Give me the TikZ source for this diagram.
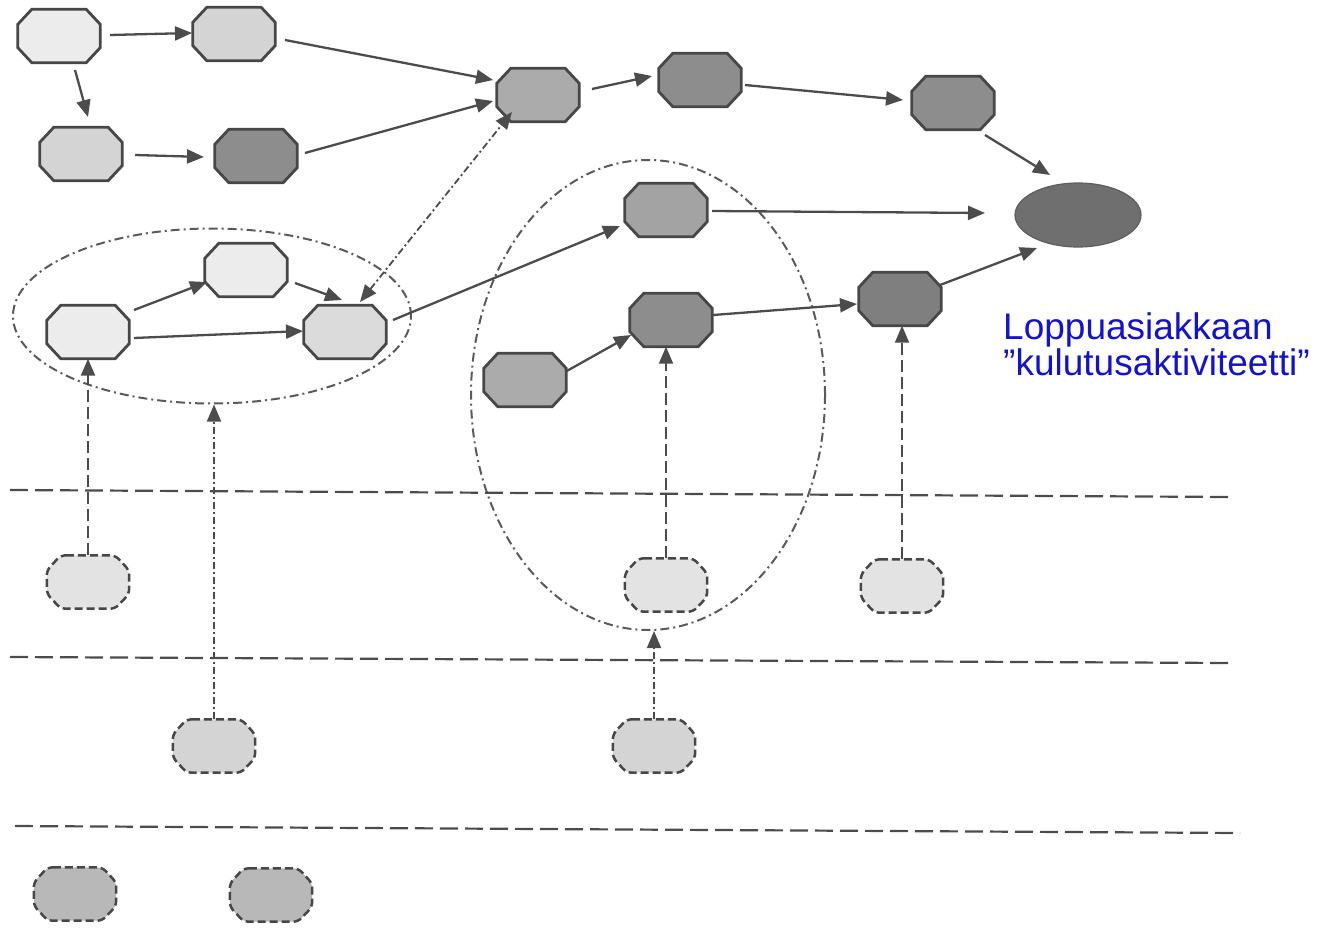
\documentclass[tikz,border=0pt]{standalone}
\usepackage{fontspec}
\setmainfont{Liberation Sans}
\usetikzlibrary{shapes.geometric,arrows.meta,calc}

\definecolor{edge}{HTML}{474747}
\definecolor{link}{HTML}{4C4C4C}
\definecolor{grpline}{HTML}{5A5A5A}
\definecolor{txtblue}{HTML}{1212D2}
\definecolor{g1}{HTML}{ECECEC}
\definecolor{g2}{HTML}{D4D4D4}
\definecolor{g3}{HTML}{ABABAB}
\definecolor{g4}{HTML}{8D8D8D}
\definecolor{g5}{HTML}{6F6F6F}

% octagonal box: #1 style of the outline, #2 name, #3 position, #4 fill
\newcommand\octbox[4]{%
  \node[box] (#2) at (#3) {};
  \path[#1, fill=#4]
    ($(#2.north west)+(14,0)$) -- ($(#2.north east)+(-14,0)$)
    -- ($(#2.north east)+(0,15)$) -- ($(#2.south east)+(0,-15)$)
    -- ($(#2.south east)+(-14,0)$) -- ($(#2.south west)+(14,0)$)
    -- ($(#2.south west)+(0,-15)$) -- ($(#2.north west)+(0,15)$) -- cycle;
}

\begin{document}
\begin{tikzpicture}[x=1pt,y=-1pt,
  box/.style={rectangle, minimum width=82pt, minimum height=53pt, inner sep=0pt},
  actline/.style={draw=edge, line width=2.8pt, line join=miter},
  resline/.style={draw=edge, line width=2.5pt, rounded corners=5pt,
    dash pattern=on 8pt off 4pt},
  grp/.style={ellipse, draw=grpline, line width=2pt,
    dash pattern=on 9pt off 4pt on 2pt off 4pt},
  flow/.style={draw=link, line width=2.3pt, -{Triangle[length=17pt,width=14pt]}},
  supply/.style={draw=link, line width=2pt, dash pattern=on 12pt off 5pt,
    -{Triangle[length=17pt,width=14pt]}},
  assist/.style={draw=link, line width=1.8pt, dash pattern=on 7pt off 3pt on 2pt off 3pt,
    -{Triangle[length=17pt,width=14pt]}},
  layer/.style={draw=link, line width=2.2pt, dash pattern=on 18pt off 7pt}
]
\useasboundingbox (0,0) rectangle (1321,944);

% grouping ellipses
\node[grp, minimum width=398pt, minimum height=175pt] (grp1) at (212,316) {};
\node[grp, minimum width=354pt, minimum height=470pt] (grp2) at (648,395) {};

% layer separators
\draw[layer] (10,490) -- (1230,497);
\draw[layer] (10,657) -- (1230,663);
\draw[layer] (15,826) -- (1240,833);

% activities
\octbox{actline}{A}{59,36}{g1}
\octbox{actline}{B}{234,34}{g2}
\octbox{actline}{C}{81,154}{g2}
\octbox{actline}{D}{256,156}{g4}
\octbox{actline}{E}{538,95}{g3}
\octbox{actline}{F}{700,80}{g4}
\octbox{actline}{G}{953,103}{g4}
\node[ellipse, fill=g5, draw=g5!85!black, line width=1.2pt, minimum width=126pt,
  minimum height=64pt] (H) at (1078,215) {};
\octbox{actline}{I}{246,270}{g1}
\octbox{actline}{J}{88,332}{g1}
\octbox{actline}{K}{345,332}{g1!93!black}
\octbox{actline}{L}{666,210}{g3!110}
\octbox{actline}{M}{671,320}{g4}
\octbox{actline}{N}{525,380}{g3}
\octbox{actline}{O}{900,299}{g4!90!black}

% resources in lower layers
\octbox{resline}{P1}{88,582}{g1!96!black}
\octbox{resline}{P2}{666,585}{g1!96!black}
\octbox{resline}{P3}{902,586}{g1!96!black}
\octbox{resline}{Q1}{214,746}{g2}
\octbox{resline}{Q2}{654,746}{g2}
\octbox{resline}{R1}{75,894}{g3!85!white}
\octbox{resline}{R2}{271,895}{g3!85!white}

% flows between activities
\draw[flow] ($(A)+(51,-1)$) -- ($(B)+(-42,-1)$);
\draw[flow] ($(A)+(16,34)$) -- ($(C)+(7,-37)$);
\draw[flow] ($(B)+(51,6)$) -- ($(E)+(-45,-15)$);
\draw[flow] ($(C)+(54,1)$) -- ($(D)+(-52,1)$);
\draw[flow] ($(D)+(49,-3)$) -- ($(E)+(-45,6)$);
\draw[flow] ($(E)+(54,-6)$) -- ($(F)+(-48,-4)$);
\draw[flow] ($(F)+(45,5)$) -- ($(G)+(-50,-3)$);
\draw[flow] ($(G)+(32,32)$) -- ($(H)+(-28,-40)$);
\draw[flow] ($(L)+(46,1)$) -- ($(H)+(-93,-2)$);
\draw[flow] ($(O)+(40,-14)$) -- ($(H)+(-41,33)$);
\draw[flow] ($(J)+(46,-22)$) -- ($(I)+(-39,12)$);
\draw[flow] ($(I)+(49,13)$) -- ($(K)+(-3,-32)$);
\draw[flow] ($(J)+(46,6)$) -- ($(K)+(-42,-1)$);
\draw[flow] ($(K)+(48,-12)$) -- ($(L)+(-46,16)$);
\draw[flow] ($(N)+(40,-8)$) -- ($(M)+(-40,15)$);
\draw[flow] ($(M)+(42,-5)$) -- ($(O)+(-43,5)$);
\draw[assist, {Triangle[length=17pt,width=14pt]}-{Triangle[length=17pt,width=14pt]}]
  ($(K)+(15,-30)$) -- ($(E)+(-26,17)$);

% support from lower layers
\draw[supply] (P1.north) -- (P1.north |- J.south);
\draw[supply] (P2.north) -- (P2.north |- M.south);
\draw[supply] (P3.north) -- (P3.north |- O.south);
\draw[assist] (Q1.north) -- (Q1.north |- grp1.south);
\draw[assist] (Q2.north) -- (Q2.north |- grp2.south);

% caption of the final activity
\node[anchor=north west, inner sep=0pt, align=left, text=txtblue,
  font=\fontsize{37}{36}\selectfont] (lbl) at (1003,312)
  {Loppuasiakkaan\\”kulutusaktiviteetti”};
\end{tikzpicture}
\end{document}
